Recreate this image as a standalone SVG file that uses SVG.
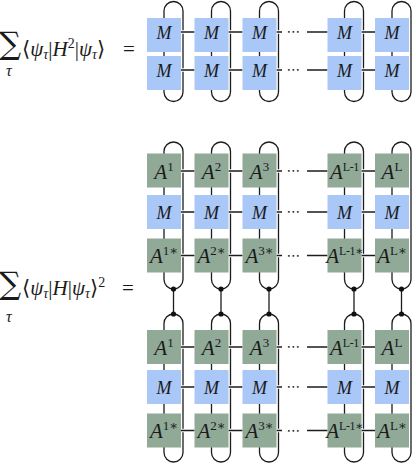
<svg xmlns="http://www.w3.org/2000/svg" xmlns:xlink="http://www.w3.org/1999/xlink" width="416" height="466" viewBox="0 0 416 466">
<style>
.bg{fill:#ffffff}
.ln{fill:none;stroke:#1c1c1c;stroke-width:1.3}
.halo{fill:none;stroke:#ffffff;stroke-width:3.6}
.dot{fill:#111111}
.bm{fill:#a9c7f7}
.ba{fill:#91aa98}
.lbl{font-family:"Liberation Serif","DejaVu Serif",serif;font-style:italic;fill:#1a1a1a;text-anchor:middle}
.lm{font-size:18px}
.la{font-size:21px}
.sp{font-style:normal;font-size:13px}
.spl{font-style:normal;font-size:12px;letter-spacing:-0.4px}
.dots{font-family:"DejaVu Sans",sans-serif;font-size:14px;fill:#1a1a1a;text-anchor:middle}
.eq{font-family:"Liberation Serif","DejaVu Serif",serif;font-size:21px;fill:#1a1a1a}
.i{font-style:italic}
.sub{font-size:14px}
.tau{font-family:"Liberation Serif","DejaVu Serif",serif;font-style:italic;font-size:16px;fill:#1a1a1a}
.sum{font-family:"DejaVu Serif",serif;font-size:31px;fill:#1a1a1a}
</style>
<defs>
<path id="row" d="M181 0H194.5M228.5 0H242.5M276.5 0H282M307 0H327.5M361.5 0H375"/>
<rect id="loopT" x="0" y="1.5" width="19" height="100" rx="9.5" ry="9.5"/>
<path id="loopU" d="M9.5 289A9.5 9.5 0 0 1 0 279.5V151.5A9.5 9.5 0 0 1 19 151.5V279.5A9.5 9.5 0 0 1 9.5 289"/>
<path id="loopL" d="M9.5 314A9.5 9.5 0 0 0 0 323.5V452.5A9.5 9.5 0 0 0 19 452.5V323.5A9.5 9.5 0 0 0 9.5 314"/>
<g id="joint"><path d="M9.5 289V314" class="ln"/><circle cx="9.5" cy="289" r="2.6" class="dot"/><circle cx="9.5" cy="314" r="2.6" class="dot"/></g>
</defs>
<rect class="bg" x="0" y="0" width="416" height="466"/>

<g id="equations">
<text class="sum" x="-1" y="54">∑</text>
<text class="tau" x="6" y="76">τ</text>
<text class="eq" x="22" y="56">⟨<tspan class="i">ψ</tspan><tspan class="i sub" dy="3">τ</tspan><tspan dy="-3">|</tspan><tspan class="i">H</tspan><tspan class="sub" dy="-8">2</tspan><tspan dy="8">|</tspan><tspan class="i">ψ</tspan><tspan class="i sub" dy="3">τ</tspan><tspan dy="-3">⟩</tspan></text>
<text class="eq" x="123" y="56">=</text>
<text class="sum" x="-1" y="294">∑</text>
<text class="tau" x="6" y="322">τ</text>
<text class="eq" x="22" y="295">⟨<tspan class="i">ψ</tspan><tspan class="i sub" dy="3">τ</tspan><tspan dy="-3">|</tspan><tspan class="i">H</tspan><tspan dy="0">|</tspan><tspan class="i">ψ</tspan><tspan class="i sub" dy="3">τ</tspan><tspan dy="-3">⟩</tspan><tspan class="sub" dy="-8">2</tspan></text>
<text class="eq" x="122" y="295">=</text>
</g>

<g id="connectors">
<g class="ln">
<use xlink:href="#loopT" x="164"/><use xlink:href="#loopT" x="211.5"/><use xlink:href="#loopT" x="259.5"/><use xlink:href="#loopT" x="344.5"/><use xlink:href="#loopT" x="392"/>
<use xlink:href="#loopU" x="164"/><use xlink:href="#loopU" x="211.5"/><use xlink:href="#loopU" x="259.5"/><use xlink:href="#loopU" x="344.5"/><use xlink:href="#loopU" x="392"/>
<use xlink:href="#loopL" x="164"/><use xlink:href="#loopL" x="211.5"/><use xlink:href="#loopL" x="259.5"/><use xlink:href="#loopL" x="344.5"/><use xlink:href="#loopL" x="392"/>
</g>
<use xlink:href="#joint" x="164"/><use xlink:href="#joint" x="211.5"/><use xlink:href="#joint" x="259.5"/><use xlink:href="#joint" x="344.5"/><use xlink:href="#joint" x="392"/>
<g class="halo">
<use xlink:href="#row" y="32"/><use xlink:href="#row" y="70"/>
<use xlink:href="#row" y="171"/><use xlink:href="#row" y="212"/><use xlink:href="#row" y="255.5"/>
<use xlink:href="#row" y="347"/><use xlink:href="#row" y="387"/><use xlink:href="#row" y="430.5"/>
</g>
<g class="ln">
<use xlink:href="#row" y="32"/><use xlink:href="#row" y="70"/>
<use xlink:href="#row" y="171"/><use xlink:href="#row" y="212"/><use xlink:href="#row" y="255.5"/>
<use xlink:href="#row" y="347"/><use xlink:href="#row" y="387"/><use xlink:href="#row" y="430.5"/>
</g>
<g class="dots">
<text x="293.5" y="36">⋯</text><text x="293.5" y="74">⋯</text>
<text x="293.5" y="175">⋯</text><text x="293.5" y="216">⋯</text><text x="293.5" y="259.5">⋯</text>
<text x="293.5" y="351">⋯</text><text x="293.5" y="391">⋯</text><text x="293.5" y="434.5">⋯</text>
</g>
</g>

<g id="top-row1">
<g id="m1a"><rect class="bm" x="147" y="18" width="34" height="34"/><text class="lbl lm" x="164" y="38.5">M</text></g>
<g id="m2a"><rect class="bm" x="194.5" y="18" width="34" height="34"/><text class="lbl lm" x="211.5" y="38.5">M</text></g>
<g id="m3a"><rect class="bm" x="242.5" y="18" width="34" height="34"/><text class="lbl lm" x="259.5" y="38.5">M</text></g>
<g id="m4a"><rect class="bm" x="327.5" y="18" width="34" height="34"/><text class="lbl lm" x="344.5" y="38.5">M</text></g>
<g id="m5a"><rect class="bm" x="375" y="18" width="34" height="34"/><text class="lbl lm" x="392" y="38.5">M</text></g>
</g>
<g id="top-row2">
<g id="m1b"><rect class="bm" x="147" y="56" width="34" height="34"/><text class="lbl lm" x="164" y="76.5">M</text></g>
<g id="m2b"><rect class="bm" x="194.5" y="56" width="34" height="34"/><text class="lbl lm" x="211.5" y="76.5">M</text></g>
<g id="m3b"><rect class="bm" x="242.5" y="56" width="34" height="34"/><text class="lbl lm" x="259.5" y="76.5">M</text></g>
<g id="m4b"><rect class="bm" x="327.5" y="56" width="34" height="34"/><text class="lbl lm" x="344.5" y="76.5">M</text></g>
<g id="m5b"><rect class="bm" x="375" y="56" width="34" height="34"/><text class="lbl lm" x="392" y="76.5">M</text></g>
</g>

<g id="upper-A">
<g id="ua1"><rect class="ba" x="147" y="153.5" width="34" height="34"/><text class="lbl la" x="164" y="178.5">A<tspan class="sp" dy="-8">1</tspan></text></g>
<g id="ua2"><rect class="ba" x="194.5" y="153.5" width="34" height="34"/><text class="lbl la" x="211.5" y="178.5">A<tspan class="sp" dy="-8">2</tspan></text></g>
<g id="ua3"><rect class="ba" x="242.5" y="153.5" width="34" height="34"/><text class="lbl la" x="259.5" y="178.5">A<tspan class="sp" dy="-8">3</tspan></text></g>
<g id="ua4"><rect class="ba" x="327.5" y="153.5" width="34" height="34"/><text class="lbl la" x="344.5" y="178.5">A<tspan class="spl" dy="-8">L-1</tspan></text></g>
<g id="ua5"><rect class="ba" x="375" y="153.5" width="34" height="34"/><text class="lbl la" x="392" y="178.5">A<tspan class="sp" dy="-8">L</tspan></text></g>
</g>
<g id="upper-M">
<g id="um1"><rect class="bm" x="147" y="195" width="34" height="34"/><text class="lbl lm" x="164" y="218.5">M</text></g>
<g id="um2"><rect class="bm" x="194.5" y="195" width="34" height="34"/><text class="lbl lm" x="211.5" y="218.5">M</text></g>
<g id="um3"><rect class="bm" x="242.5" y="195" width="34" height="34"/><text class="lbl lm" x="259.5" y="218.5">M</text></g>
<g id="um4"><rect class="bm" x="327.5" y="195" width="34" height="34"/><text class="lbl lm" x="344.5" y="218.5">M</text></g>
<g id="um5"><rect class="bm" x="375" y="195" width="34" height="34"/><text class="lbl lm" x="392" y="218.5">M</text></g>
</g>
<g id="upper-Astar">
<g id="us1"><rect class="ba" x="147" y="238.5" width="34" height="34"/><text class="lbl la" x="164" y="263">A<tspan class="sp" dy="-8">1∗</tspan></text></g>
<g id="us2"><rect class="ba" x="194.5" y="238.5" width="34" height="34"/><text class="lbl la" x="211.5" y="263">A<tspan class="sp" dy="-8">2∗</tspan></text></g>
<g id="us3"><rect class="ba" x="242.5" y="238.5" width="34" height="34"/><text class="lbl la" x="259.5" y="263">A<tspan class="sp" dy="-8">3∗</tspan></text></g>
<g id="us4"><rect class="ba" x="327.5" y="238.5" width="34" height="34"/><text class="lbl la" x="344.5" y="263">A<tspan class="spl" dy="-8">L-1∗</tspan></text></g>
<g id="us5"><rect class="ba" x="375" y="238.5" width="34" height="34"/><text class="lbl la" x="392" y="263">A<tspan class="sp" dy="-8">L∗</tspan></text></g>
</g>

<g id="lower-A">
<g id="la1"><rect class="ba" x="147" y="330" width="34" height="34"/><text class="lbl la" x="164" y="354.5">A<tspan class="sp" dy="-8">1</tspan></text></g>
<g id="la2"><rect class="ba" x="194.5" y="330" width="34" height="34"/><text class="lbl la" x="211.5" y="354.5">A<tspan class="sp" dy="-8">2</tspan></text></g>
<g id="la3"><rect class="ba" x="242.5" y="330" width="34" height="34"/><text class="lbl la" x="259.5" y="354.5">A<tspan class="sp" dy="-8">3</tspan></text></g>
<g id="la4"><rect class="ba" x="327.5" y="330" width="34" height="34"/><text class="lbl la" x="344.5" y="354.5">A<tspan class="spl" dy="-8">L-1</tspan></text></g>
<g id="la5"><rect class="ba" x="375" y="330" width="34" height="34"/><text class="lbl la" x="392" y="354.5">A<tspan class="sp" dy="-8">L</tspan></text></g>
</g>
<g id="lower-M">
<g id="lm1"><rect class="bm" x="147" y="370" width="34" height="34"/><text class="lbl lm" x="164" y="393.5">M</text></g>
<g id="lm2"><rect class="bm" x="194.5" y="370" width="34" height="34"/><text class="lbl lm" x="211.5" y="393.5">M</text></g>
<g id="lm3"><rect class="bm" x="242.5" y="370" width="34" height="34"/><text class="lbl lm" x="259.5" y="393.5">M</text></g>
<g id="lm4"><rect class="bm" x="327.5" y="370" width="34" height="34"/><text class="lbl lm" x="344.5" y="393.5">M</text></g>
<g id="lm5"><rect class="bm" x="375" y="370" width="34" height="34"/><text class="lbl lm" x="392" y="393.5">M</text></g>
</g>
<g id="lower-Astar">
<g id="ls1"><rect class="ba" x="147" y="413.5" width="34" height="34"/><text class="lbl la" x="164" y="438">A<tspan class="sp" dy="-8">1∗</tspan></text></g>
<g id="ls2"><rect class="ba" x="194.5" y="413.5" width="34" height="34"/><text class="lbl la" x="211.5" y="438">A<tspan class="sp" dy="-8">2∗</tspan></text></g>
<g id="ls3"><rect class="ba" x="242.5" y="413.5" width="34" height="34"/><text class="lbl la" x="259.5" y="438">A<tspan class="sp" dy="-8">3∗</tspan></text></g>
<g id="ls4"><rect class="ba" x="327.5" y="413.5" width="34" height="34"/><text class="lbl la" x="344.5" y="438">A<tspan class="spl" dy="-8">L-1∗</tspan></text></g>
<g id="ls5"><rect class="ba" x="375" y="413.5" width="34" height="34"/><text class="lbl la" x="392" y="438">A<tspan class="sp" dy="-8">L∗</tspan></text></g>
</g>
</svg>
